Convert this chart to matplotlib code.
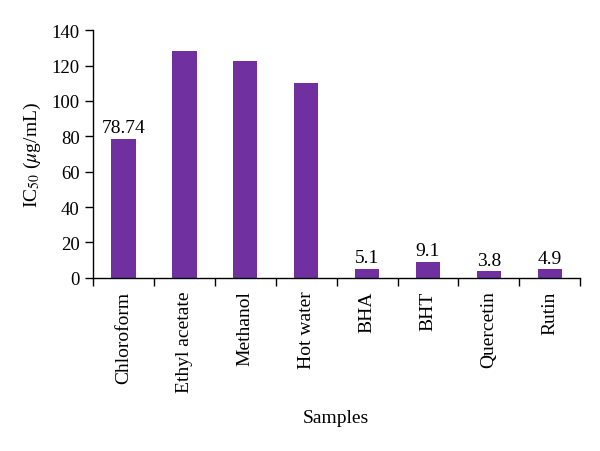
import matplotlib
matplotlib.use("Agg")
import matplotlib.pyplot as plt
import numpy as np

categories = ["Chloroform", "Ethyl acetate", "Methanol", "Hot water", "BHA", "BHT", "Quercetin", "Rutin"]
values = [78.74, 128, 122.5, 110, 5.1, 9.1, 3.8, 4.9]
labels = ["78.74", "", "", "", "5.1", "9.1", "3.8", "4.9"]
yticks = [0, 20, 40, 60, 80, 100, 120, 140]

plt.rcParams['font.family'] = ['Liberation Serif', 'DejaVu Serif']
plt.rcParams['mathtext.fontset'] = 'stix'

fig = plt.figure(figsize=(6, 4.52), dpi=100)
ax = fig.add_axes([0.155, 0.383, 0.812, 0.548])

x = np.arange(len(categories))
bars = ax.bar(x, values, width=0.4, color='#7030A0')
for xi, v, lab in zip(x, values, labels):
    if lab:
        ax.text(xi, v + 1.5, lab, ha='center', va='bottom', fontsize=14)

ax.set_xlim(-0.5, len(categories) - 0.5)
ax.set_ylim(0, 140)
ax.set_yticks(yticks)
ax.set_xticks(x)
ax.set_xticklabels(categories, rotation=90, fontsize=14)
ax.set_xticks(np.arange(len(categories) + 1) - 0.5, minor=True)
ax.tick_params(axis='x', which='major', length=0, pad=9)
ax.tick_params(axis='x', which='minor', length=6, direction='out', width=1)
ax.tick_params(axis='y', length=6, direction='out', width=1, labelsize=13.5)
for s in ['top', 'right']:
    ax.spines[s].set_visible(False)
ax.spines['left'].set_linewidth(1)
ax.spines['bottom'].set_linewidth(1)

ax.set_ylabel(r'IC$_{50}$ ($\mu$g/mL)', fontsize=14, labelpad=6)
fig.text(0.56, 0.075, 'Samples', ha='center', va='center', fontsize=14)

fig.savefig('out.png', dpi=100)
